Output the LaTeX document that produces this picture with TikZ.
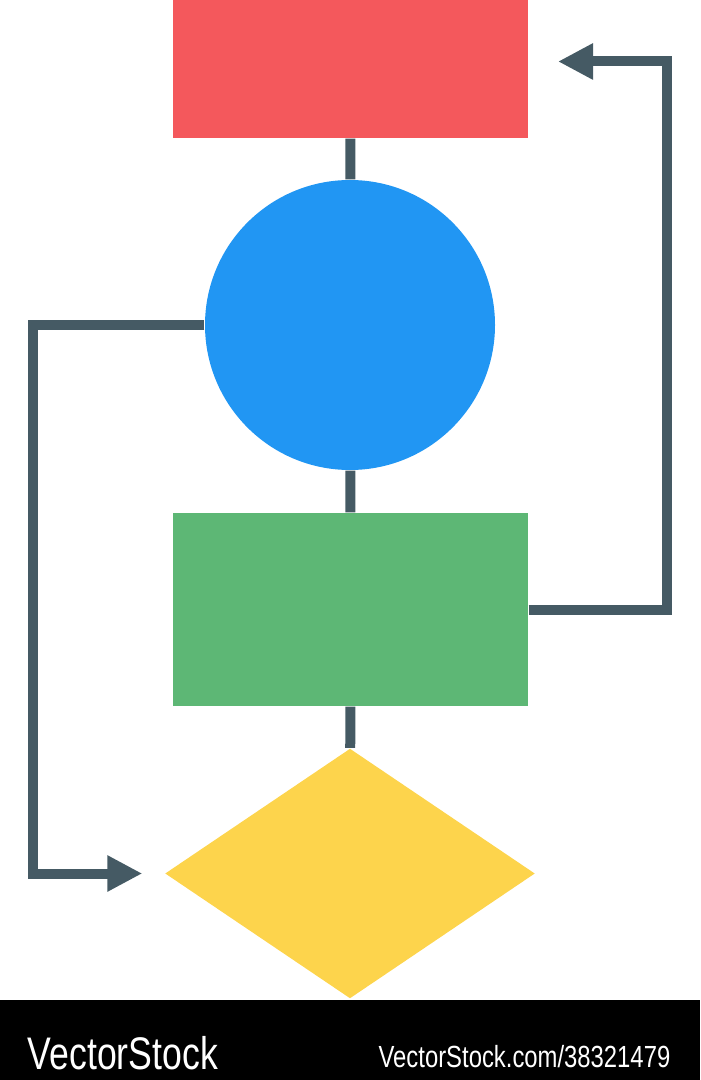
\documentclass[tikz,border=0pt]{standalone}
\usepackage{fontspec}
\usetikzlibrary{shapes}
\usetikzlibrary{arrows.meta}
\usetikzlibrary{positioning}
\newfontfamily\markfont[FakeStretch=0.78]{Liberation Sans}
\definecolor{boxred}{HTML}{F4585C}
\definecolor{boxblue}{HTML}{2196F3}
\definecolor{boxgreen}{HTML}{5DB775}
\definecolor{boxyellow}{HTML}{FDD44C}
\definecolor{wire}{HTML}{455A64}
\tikzstyle{block} = [rectangle, draw=none, inner sep=0pt,
minimum width=3.55cm]
\tikzstyle{decision} = [circle, draw=none, inner sep=0pt, minimum size=2.9cm]
\tikzstyle{branch} = [diamond, draw=none, inner sep=0pt,
minimum width=3.7cm, minimum height=2.5cm]
\tikzstyle{link} = [draw=wire, line width=1mm]
\tikzstyle{stamp} = [text=white, inner sep=0pt]
\tikzset{>={Triangle[length=3.5mm, width=3.4mm]}}

\begin{document}
\begin{tikzpicture}
  \useasboundingbox (0,0) rectangle (7,-10.8);
  \fill[black] (0,-10) rectangle (7,-10.8);

  \node[block, fill=boxred, minimum height=1.38cm] (start) at (3.505,-0.69) {};
  \node[decision, fill=boxblue] (test) at (3.5,-3.25) {};
  \node[block, fill=boxgreen, minimum height=1.93cm] (proc) at (3.505,-6.095) {};
  \node[branch, fill=boxyellow] (stop) at (3.5,-8.735) {};

  \draw[link] (start) -- (test);
  \draw[link] (test) -- (proc);
  \draw[link] (proc) -- (stop);

  \coordinate (in1) at ([xshift=-2.2mm]stop.west);
  \coordinate (in2) at (5.58,-0.615);
  \draw[link, ->] (test.west) -- ++(-1.71,0) |- (in1);
  \draw[link, ->] (proc.east) -- ++(1.38,0) |- (in2);

  \node[stamp, anchor=base west, font=\markfont\fontsize{13}{13}\selectfont]
    (brand) at (0.27,-10.69) {VectorStock};
  \node[stamp, anchor=base east, font=\markfont\fontsize{8.7}{9}\selectfont]
    (ref) at (6.71,-10.67) {VectorStock.com/38321479};
\end{tikzpicture}
\end{document}
